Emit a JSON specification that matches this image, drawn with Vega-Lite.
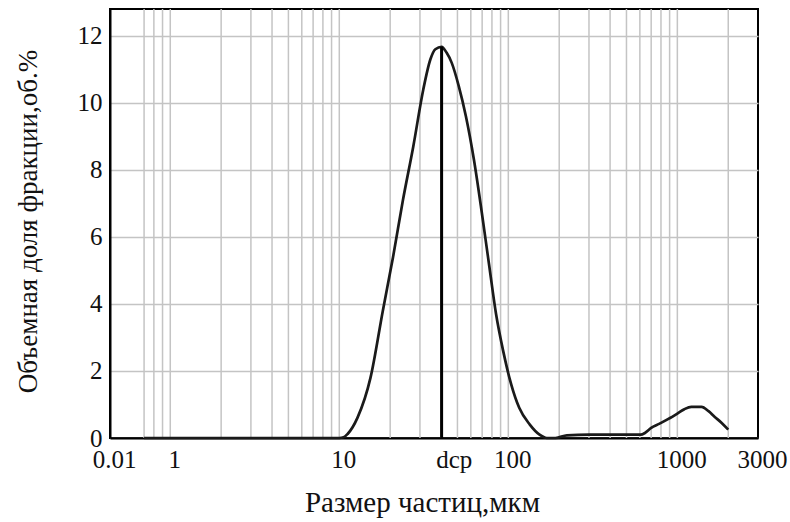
{
  "$schema": "https://vega.github.io/schema/vega-lite/v6.json",
  "width": 648,
  "height": 429,
  "autosize": "none",
  "padding": {"left": 110, "top": 9, "right": 32, "bottom": 84},
  "background": "white",
  "config": {
    "view": {"stroke": "black", "strokeWidth": 2},
    "axis": {"labelFont": "Liberation Serif", "titleFont": "Liberation Serif", "labelColor": "#111", "titleColor": "#111", "titleFontWeight": "normal"}
  },
  "datasets": {
    "curve": [
      {"d": 0.7, "v": 0}, {"d": 1, "v": 0}, {"d": 2, "v": 0}, {"d": 5, "v": 0}, {"d": 10, "v": 0},
      {"d": 10.6, "v": 0.02}, {"d": 11.2, "v": 0.12}, {"d": 12.8, "v": 0.6}, {"d": 15.3, "v": 1.8},
      {"d": 18.1, "v": 3.8}, {"d": 20.8, "v": 5.4}, {"d": 23.8, "v": 7.1}, {"d": 27.4, "v": 8.7},
      {"d": 31.4, "v": 10.4}, {"d": 34.6, "v": 11.3}, {"d": 37.0, "v": 11.6}, {"d": 40.3, "v": 11.67},
      {"d": 43.1, "v": 11.5}, {"d": 46.2, "v": 11.2}, {"d": 50.9, "v": 10.5}, {"d": 56.1, "v": 9.6},
      {"d": 62.6, "v": 8.3}, {"d": 69.8, "v": 6.7}, {"d": 76.8, "v": 5.2}, {"d": 84.6, "v": 3.7},
      {"d": 93.2, "v": 2.6}, {"d": 104, "v": 1.6}, {"d": 116, "v": 0.9}, {"d": 134, "v": 0.4},
      {"d": 153, "v": 0.1}, {"d": 169, "v": 0}, {"d": 190, "v": 0},
      {"d": 222, "v": 0.08}, {"d": 300, "v": 0.1}, {"d": 400, "v": 0.1},
      {"d": 500, "v": 0.1}, {"d": 608, "v": 0.1}, {"d": 643, "v": 0.15}, {"d": 700, "v": 0.3},
      {"d": 780, "v": 0.42}, {"d": 885, "v": 0.57}, {"d": 1000, "v": 0.73}, {"d": 1100, "v": 0.86},
      {"d": 1210, "v": 0.93}, {"d": 1390, "v": 0.93}, {"d": 1530, "v": 0.8}, {"d": 1665, "v": 0.63},
      {"d": 1830, "v": 0.45}, {"d": 2000, "v": 0.25}
    ],
    "grid": [
      {"d": 0.7}, {"d": 0.8}, {"d": 0.9}, {"d": 1}, {"d": 2}, {"d": 3}, {"d": 4}, {"d": 5}, {"d": 6},
      {"d": 7}, {"d": 8}, {"d": 9}, {"d": 10}, {"d": 20}, {"d": 30}, {"d": 40}, {"d": 50}, {"d": 60},
      {"d": 70}, {"d": 80}, {"d": 90}, {"d": 100}, {"d": 200}, {"d": 300}, {"d": 400}, {"d": 500},
      {"d": 600}, {"d": 700}, {"d": 800}, {"d": 900}, {"d": 1000}, {"d": 2000}
    ],
    "dcp": [{"d": 40.3, "lo": 0, "hi": 11.67}]
  },
  "encoding": {
    "x": {
      "field": "d", "type": "quantitative",
      "scale": {"type": "log", "domain": [0.44, 3000], "nice": false},
      "axis": {
        "values": [0.44, 1, 10, 45, 100, 1000, 3000],
        "labelExpr": "datum.value < 0.5 ? '0.01' : (datum.value == 45 ? 'dcp' : format(datum.value, 'd'))",
        "grid": false, "ticks": false, "domainColor": "black", "domainWidth": 2,
        "labelFontSize": 25, "labelPadding": 9, "labelOffset": 4,
        "labelFlush": false, "labelOverlap": false, "labelBound": false,
        "title": "Размер частиц,мкм", "titleFontSize": 29,
        "titleX": 312, "titleY": 64, "titleBaseline": "middle", "titleAnchor": null
      }
    }
  },
  "layer": [
    {
      "data": {"name": "grid"},
      "mark": {"type": "rule", "color": "#c4c4c4", "strokeWidth": 1.5}
    },
    {
      "data": {"name": "curve"},
      "mark": {"type": "line", "color": "#1a1a1a", "strokeWidth": 2.7, "interpolate": "monotone"},
      "encoding": {
        "y": {
          "field": "v", "type": "quantitative",
          "scale": {"domain": [0, 12.8], "nice": false},
          "axis": {
            "values": [0, 2, 4, 6, 8, 10, 12], "grid": true, "gridColor": "#c4c4c4", "gridWidth": 1.5,
            "ticks": false, "domainColor": "black", "domainWidth": 2,
            "labelFontSize": 25, "labelPadding": 8, "labelBaseline": "middle",
            "title": "Объемная доля фракции,об.%", "titleFontSize": 27,
            "titleAngle": -90, "titleX": -82, "titleY": 212, "titleBaseline": "middle", "titleAnchor": null
          }
        }
      }
    },
    {
      "data": {"name": "dcp"},
      "mark": {"type": "rule", "color": "black", "strokeWidth": 3},
      "encoding": {
        "y": {"field": "lo", "type": "quantitative"},
        "y2": {"field": "hi"}
      }
    }
  ]
}
